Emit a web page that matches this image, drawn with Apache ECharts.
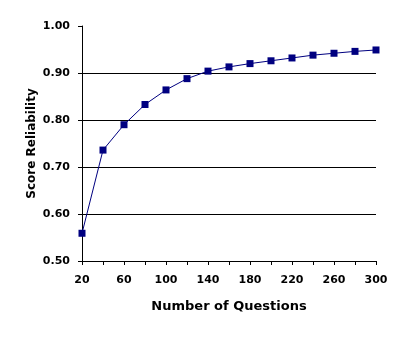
<!DOCTYPE html>
<html><head><meta charset="utf-8">
<script src="https://cdn.jsdelivr.net/npm/echarts@6/dist/echarts.min.js"></script>
<style>html,body{margin:0;padding:0;background:#fff}#c{width:405px;height:338px}</style>
</head><body><div id="c"></div>
<script>
var questions = [20,40,60,80,100,120,140,160,180,200,220,240,260,280,300];
var reliability = [0.559,0.736,0.790,0.833,0.864,0.888,0.904,0.913,0.920,0.926,0.932,0.938,0.942,0.946,0.949];
var xTickLabels = [20,60,100,140,180,220,260,300];
var yTickLabels = ['0.50','0.60','0.70','0.80','0.90','1.00'];
var xName = 'Number of Questions';
var yName = 'Score Reliability';

var font = 'DejaVu Sans';
var chart = echarts.init(document.getElementById('c'), null, {renderer:'canvas'});
chart.setOption({
  backgroundColor:'#fff',
  animation:false,
  grid:{left:82,right:29,top:26,bottom:77,containLabel:false},
  xAxis:{
    type:'value', min:20, max:300, interval:20,
    name:xName, nameLocation:'middle', nameGap:39, nameMoveOverlap:false,
    nameTextStyle:{fontFamily:font,fontWeight:'bold',fontSize:13,color:'#000'},
    axisLine:{show:true,lineStyle:{color:'#000',width:1}},
    axisTick:{show:true,length:4,lineStyle:{color:'#000'}},
    axisLabel:{fontFamily:font,fontWeight:'bold',fontSize:11,color:'#000',margin:14,
      formatter:function(v){return xTickLabels.indexOf(v)>=0?String(v):'';}},
    splitLine:{show:false}
  },
  yAxis:{
    type:'value', min:0.5, max:1.0, interval:0.1,
    name:yName, nameLocation:'middle', nameGap:44, nameMoveOverlap:false,
    nameTextStyle:{fontFamily:font,fontWeight:'bold',fontSize:12,color:'#000'},
    axisLine:{show:true,lineStyle:{color:'#000',width:1}},
    axisTick:{show:true,length:4,lineStyle:{color:'#000'}},
    axisLabel:{fontFamily:font,fontWeight:'bold',fontSize:11,color:'#000',margin:12,
      formatter:function(v){var i=Math.round((v-0.5)*10);return yTickLabels[i]||'';}},
    splitLine:{show:true,showMinLine:false,showMaxLine:false,lineStyle:{color:'#000',width:1}}
  },
  series:[{
    type:'line',
    data:questions.map(function(q,i){return [q,reliability[i]];}),
    symbol:'rect', symbolSize:7,
    lineStyle:{color:'#000080',width:1},
    itemStyle:{color:'#000080'}
  }]
});
</script></body></html>
